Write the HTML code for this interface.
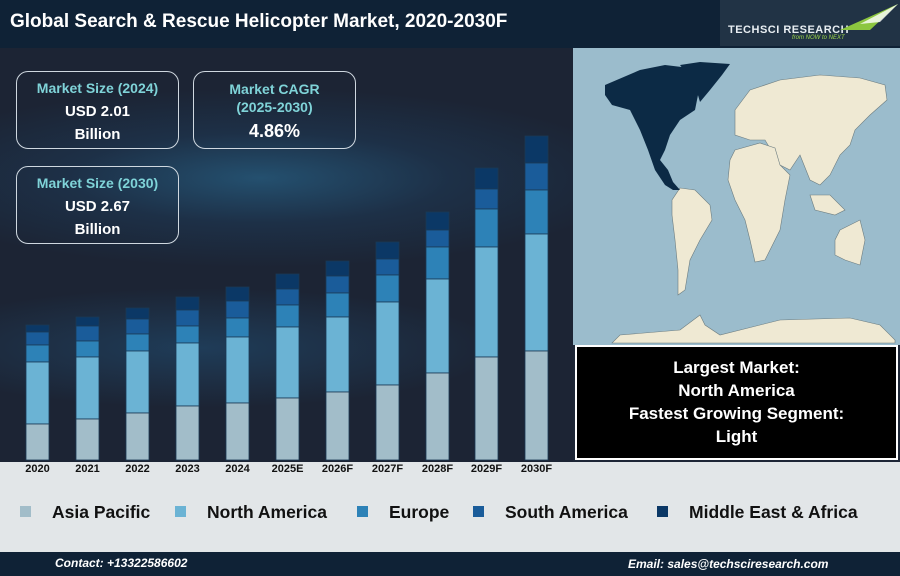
<!DOCTYPE html>
<html><head><style>
body{margin:0;width:900px;height:576px;overflow:hidden;font-family:"Liberation Sans",sans-serif;position:relative;background:#1d2636}
.hdr{position:absolute;left:0;top:0;width:900px;height:48px;background:#0f2236}
.hdr h1{margin:0;position:absolute;left:10px;top:11px;color:#fff;font-size:19px;font-weight:bold}
.chart{position:absolute;left:0;top:48px;width:573px;height:414px;background:radial-gradient(ellipse 380px 90px at 260px 130px,#24506f 0%,rgba(30,60,90,0.5) 50%,rgba(0,0,0,0) 100%),radial-gradient(ellipse 300px 60px at 200px 300px,#1f3c58 0%,rgba(0,0,0,0) 100%),#1c2434}
.card{position:absolute;border:1.5px solid #cfd8e0;border-radius:12px;text-align:center;color:#fff;font-weight:bold;font-size:15px;line-height:23px;box-sizing:border-box}
.card .t{color:#7fd3d8;font-size:14px}
.blk{position:absolute;left:575px;top:345px;width:323px;height:115px;background:#000;box-sizing:border-box;border:2px solid #fff;color:#fff;font-weight:bold;font-size:17px;text-align:center;line-height:23px;padding-top:9px}
.leg{position:absolute;left:0;top:462px;width:900px;height:90px;background:#e2e6e8}
.lx{position:absolute;top:40px;font-size:17.5px;font-weight:bold;color:#111}
.lx i{position:absolute;left:-32px;top:4px;width:11px;height:11px}
.ftr{position:absolute;left:0;top:552px;width:900px;height:24px;background:#0f2236;color:#fff;font-style:italic;font-weight:bold;font-size:12px}
</style></head><body>
<div class="hdr"><h1>Global Search &amp; Rescue Helicopter Market, 2020-2030F</h1>
<div style="position:absolute;left:720px;top:0;width:180px;height:46px;background:#fff;opacity:0.08"></div>
<div style="position:absolute;left:728px;top:24px;color:#e8eef2;font-size:11px;font-weight:bold;letter-spacing:0.5px">TECHSCI RESEARCH</div>
<div style="position:absolute;left:792px;top:35px;color:#9fd84a;font-size:6px;font-style:italic">from NOW to NEXT</div>
<svg style="position:absolute;left:840px;top:2px" width="60" height="30"><polygon points="0,28 58,2 30,28" fill="#8cc63f"/><polygon points="20,22 58,2 40,20" fill="#fff" opacity=".8"/></svg>
</div>
<div class="chart"></div>
<div class="leg">
<div class="lx" style="left:52px"><i style="background:#a2bdc9"></i>Asia Pacific</div>
<div class="lx" style="left:207px"><i style="background:#6bb3d4"></i>North America</div>
<div class="lx" style="left:389px"><i style="background:#2d82b7"></i>Europe</div>
<div class="lx" style="left:505px"><i style="background:#1a5c9a"></i>South America</div>
<div class="lx" style="left:689px"><i style="background:#0b3866"></i>Middle East &amp; Africa</div>
</div>
<svg style="position:absolute;left:0;top:0" width="573" height="476" id="bars"></svg>
<script>
var xs=[26,76,126,176,226,276,326,376,426,475,525];
var d=[[325,332,345,362,424],[317,326,341,357,419],[308,319,334,351,413],[297,310,326,343,406],[287,301,318,337,403],[274,289,305,327,398],[261,276,293,317,392],[242,259,275,302,385],[212,230,247,279,373],[168,189,209,247,357],[136,163,190,234,351]];
var lab=["2020","2021","2022","2023","2024","2025E","2026F","2027F","2028F","2029F","2030F"];
var c=["#0b3866","#1a5c9a","#2d82b7","#6bb3d4","#a2bdc9"];
var s="";
for(var i=0;i<11;i++){var y=d[i].concat([460]);for(var k=0;k<5;k++){s+='<rect x="'+xs[i]+'" y="'+y[k]+'" width="23" height="'+(y[k+1]-y[k])+'" fill="'+c[k]+'" stroke="#1b3a55" stroke-width="0.8"/>';}}
for(var i=0;i<11;i++){s+='<text x="'+(xs[i]+11.5)+'" y="472" font-size="11" font-weight="bold" fill="#111" text-anchor="middle" font-family="Liberation Sans">'+lab[i]+'</text>';}
document.getElementById("bars").innerHTML=s;
</script>
<div class="card" style="left:16px;top:71px;width:163px;height:78px;padding-top:5px"><div class="t">Market Size (2024)</div>USD 2.01<br>Billion</div>
<div class="card" style="left:193px;top:71px;width:163px;height:78px;padding-top:8px;line-height:18px"><div class="t">Market CAGR<br>(2025-2030)</div><div style="font-size:18px;margin-top:6px">4.86%</div></div>
<div class="card" style="left:16px;top:166px;width:163px;height:78px;padding-top:5px"><div class="t">Market Size (2030)</div>USD 2.67<br>Billion</div>
<svg style="position:absolute;left:573px;top:48px" width="327" height="297" viewBox="573 48 327 297">
<rect x="573" y="48" width="327" height="297" fill="#9bbccc"/>
<g fill="#efe9d3" stroke="#6d7d80" stroke-width="0.6">
<polygon points="735,110 750,90 780,80 820,75 860,78 885,85 887,100 870,115 855,130 850,145 840,155 830,175 820,185 810,180 800,155 790,170 780,165 765,140 750,140 735,135"/>
<polygon points="735,150 760,143 775,148 780,165 790,175 785,200 780,230 765,260 755,262 750,240 745,220 735,200 728,180 730,160"/>
<polygon points="680,188 695,190 710,205 712,220 700,240 690,260 685,290 678,295 678,270 675,240 672,215 672,200"/>
<polygon points="840,230 860,220 865,240 860,265 845,260 835,255 835,240"/>
<polygon points="810,195 830,195 845,210 835,215 815,210"/>
<polygon points="612,343 620,335 680,330 700,315 705,325 720,335 780,320 850,318 880,325 895,340 895,343"/>
</g>
<g fill="#0c2a45">
<polygon points="605,85 640,70 665,65 690,68 700,85 695,110 680,120 670,135 665,150 660,160 668,170 673,182 680,190 673,190 665,185 655,170 648,150 640,130 630,110 612,105 605,95"/>
<polygon points="680,65 700,62 730,64 722,75 710,90 700,102 695,85"/>
</g>
</svg>
<div class="blk">Largest Market:<br>North America<br>Fastest Growing Segment:<br>Light</div>
<div class="ftr"><span style="position:absolute;left:55px;top:4px">Contact: +13322586602</span><span style="position:absolute;left:628px;top:5px">Email: sales@techsciresearch.com</span></div>
</body></html>
